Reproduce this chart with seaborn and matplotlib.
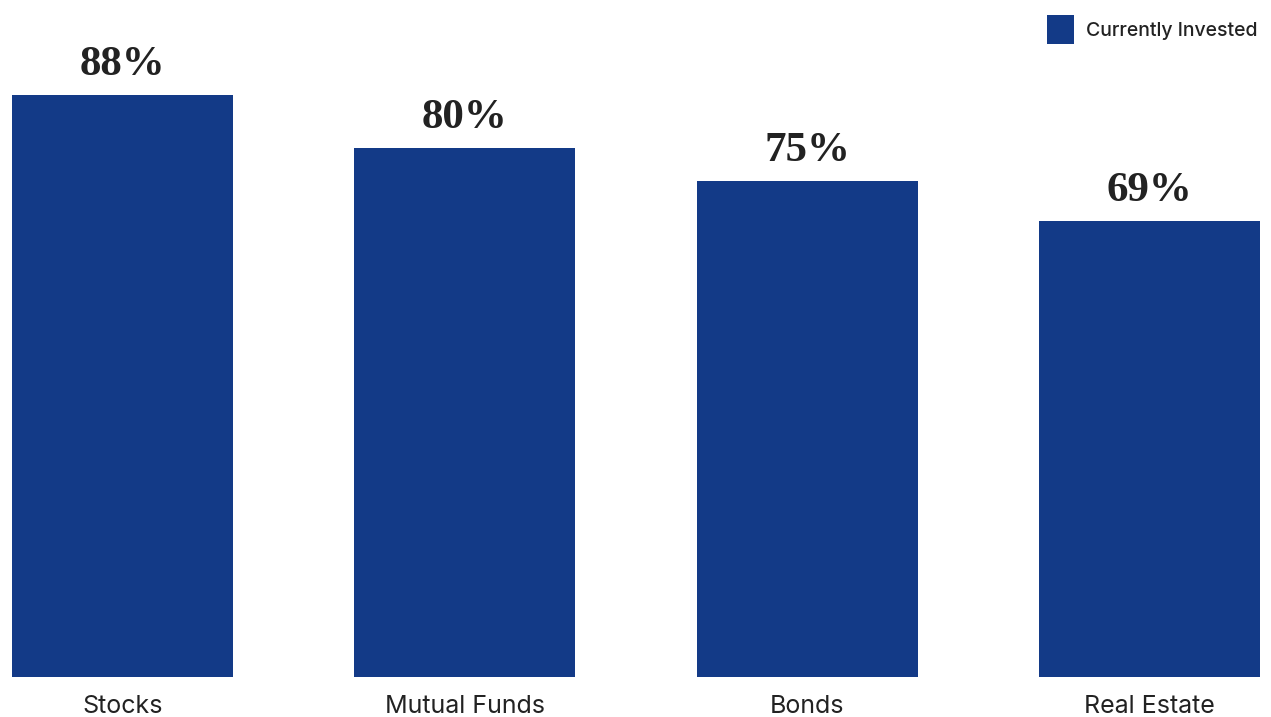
import matplotlib
matplotlib.use("Agg")
import matplotlib.pyplot as plt
import seaborn as sns
import pandas as pd

categories = ["Stocks", "Mutual Funds", "Bonds", "Real Estate"]
values = [88, 80, 75, 69]
series_name = "Currently Invested"

bar_color = "#133A87"
text_color = "#222222"

sns.set_theme(style="white")
plt.rcParams["font.family"] = ["Inter", "DejaVu Sans"]

df = pd.DataFrame({"category": categories, "value": values})

fig = plt.figure(figsize=(12.71, 7.17), dpi=100)
ax = fig.add_axes([12 / 1271, 40 / 717, 1248 / 1271, 677 / 717])

sns.barplot(data=df, x="category", y="value", color=bar_color, width=0.646,
            saturation=1, linewidth=0, label=series_name, ax=ax)

ax.set_xlim(-0.323, len(categories) - 1 + 0.323)
ax.set_ylim(0, 677 / 6.614)

for patch, v in zip(ax.patches, values):
    ax.annotate(f"{v}%", (patch.get_x() + patch.get_width() / 2, patch.get_height()),
                xytext=(0, 8), textcoords="offset points", ha="center", va="bottom",
                fontsize=31, fontweight="bold", family="Liberation Serif",
                color=text_color)

ax.set_xlabel("")
ax.set_ylabel("")
ax.set_yticks([])
ax.tick_params(axis="x", length=0, pad=13, labelsize=18, labelcolor=text_color)
for s in ax.spines.values():
    s.set_visible(False)

leg = ax.legend(loc="upper right", bbox_to_anchor=(1271 / 1271, 1 - 1 / 717),
                bbox_transform=fig.transFigure, frameon=False, fontsize=14,
                handlelength=1.4, handleheight=1.95, handletextpad=0.6, borderpad=0.2)
for t in leg.get_texts():
    t.set_color(text_color)
    t.set_fontweight("medium")

fig.savefig("out.png", dpi=100)
